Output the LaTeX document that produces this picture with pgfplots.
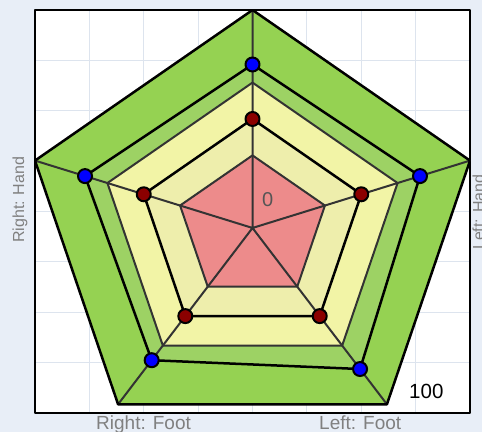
\documentclass[border=0pt]{standalone}
\usepackage{pgfplots}
\pgfplotsset{compat=1.18}
\usepackage{fontspec}
\setmainfont{Liberation Sans}
\definecolor{bgblue}{HTML}{E8EEF7}
\definecolor{gridc}{HTML}{DDE4EE}
\definecolor{cgreen}{HTML}{95D252}
\definecolor{clgreen}{HTML}{9DD264}
\definecolor{cyellow}{HTML}{F2F4A6}
\definecolor{cpale}{HTML}{EEEEAC}
\definecolor{cpink}{HTML}{ED8B8B}
\definecolor{labgray}{HTML}{808080}
\definecolor{zgray}{HTML}{555555}
\definecolor{dgray}{HTML}{333333}
\definecolor{cdarkred}{HTML}{8B0000}
\begin{document}
\begin{tikzpicture}
\useasboundingbox (0,0) rectangle (482bp,432bp);
\fill[bgblue] (0,0) rectangle (482bp,432bp);
\clip (0,0) rectangle (482bp,432bp);
\begin{axis}[
  at={(35bp,19bp)}, anchor=south west,
  scale only axis, width=435bp, height=403bp,
  xmin=-95.106, xmax=95.106, ymin=-84.9, ymax=100,
  xtick={-95.106,-71.33,-47.553,-23.776,0,23.776,47.553,71.33,95.106},
  ytick={-84.9,-61.79,-38.675,-15.56,7.55,30.66,53.775,76.89,100},
  xticklabels={}, yticklabels={},
  major tick length=0pt,
  grid=major,
  major grid style={draw=gridc, line width=1.2bp},
  axis background/.style={fill=white},
  axis line style={line width=2.5bp, black},
  line join=round,
]
% bands
\addplot[draw=none, fill=cgreen, data cs=polar] coordinates {(90,100) (18,100) (-54,100) (-126,100) (162,100)} -- cycle;
\addplot[draw=none, fill=clgreen, data cs=polar] coordinates {(90,75) (18,77) (-54,80) (-126,75) (162,77)} -- cycle;
\addplot[draw=none, fill=cyellow, data cs=polar] coordinates {(90,66.7) (18,66.7) (-54,66.7) (-126,66.7) (162,66.7)} -- cycle;
\addplot[draw=none, fill=cpale, data cs=polar] coordinates {(90,50) (18,50) (-54,50) (-126,50) (162,50)} -- cycle;
\addplot[draw=none, fill=cpink, data cs=polar] coordinates {(90,33.3) (18,33.3) (-54,33.3) (-126,33.3) (162,33.3)} -- cycle;
% band boundaries
\addplot[draw=dgray, line width=2bp, data cs=polar] coordinates {(90,66.7) (18,66.7) (-54,66.7) (-126,66.7) (162,66.7)} -- cycle;
\addplot[draw=dgray, line width=2bp, data cs=polar] coordinates {(90,33.3) (18,33.3) (-54,33.3) (-126,33.3) (162,33.3)} -- cycle;
% spokes
\addplot[draw=dgray, line width=2bp, data cs=polar] coordinates {(90,100) (0,0) (18,100) (0,0) (-54,100) (0,0) (-126,100) (0,0) (162,100)};
% outer
\addplot[draw=black, line width=2.5bp, data cs=polar] coordinates {(90,100) (18,100) (-54,100) (-126,100) (162,100)} -- cycle;
% blue series
\addplot[draw=black, line width=2.5bp, data cs=polar, mark=*, mark size=7bp, mark options={fill=blue, draw=black, line width=2bp}] coordinates {(90,75) (18,77) (-54,80) (-126,75) (162,77)} -- cycle;
% red series
\addplot[draw=black, line width=2.5bp, data cs=polar, mark=*, mark size=7bp, mark options={fill=cdarkred, draw=black, line width=2bp}] coordinates {(90,50) (18,50) (-54,50) (-126,50) (162,50)} -- cycle;
\end{axis}
\node[rotate=90, anchor=base west, inner sep=0, text=labgray, font=\fontsize{16bp}{18bp}\selectfont] at (24bp,189bp) {Right: Hand};
\node[rotate=90, anchor=base west, inner sep=0, text=labgray, font=\fontsize{16bp}{18bp}\selectfont] at (484bp,182bp) {Left: Hand};
\node[anchor=base west, inner sep=0, text=labgray, font=\fontsize{19bp}{22bp}\selectfont] at (96bp,2.5bp) {Right: Foot};
\node[anchor=base west, inner sep=0, text=labgray, font=\fontsize{19bp}{22bp}\selectfont] at (319bp,2.5bp) {Left: Foot};
\node[anchor=base west, inner sep=0, text=zgray, font=\fontsize{20bp}{22bp}\selectfont] at (262bp,225bp) {0};
\node[anchor=base west, inner sep=0, text=black, font=\fontsize{20.5bp}{22bp}\selectfont] at (409bp,34bp) {100};
\end{tikzpicture}
\end{document}
